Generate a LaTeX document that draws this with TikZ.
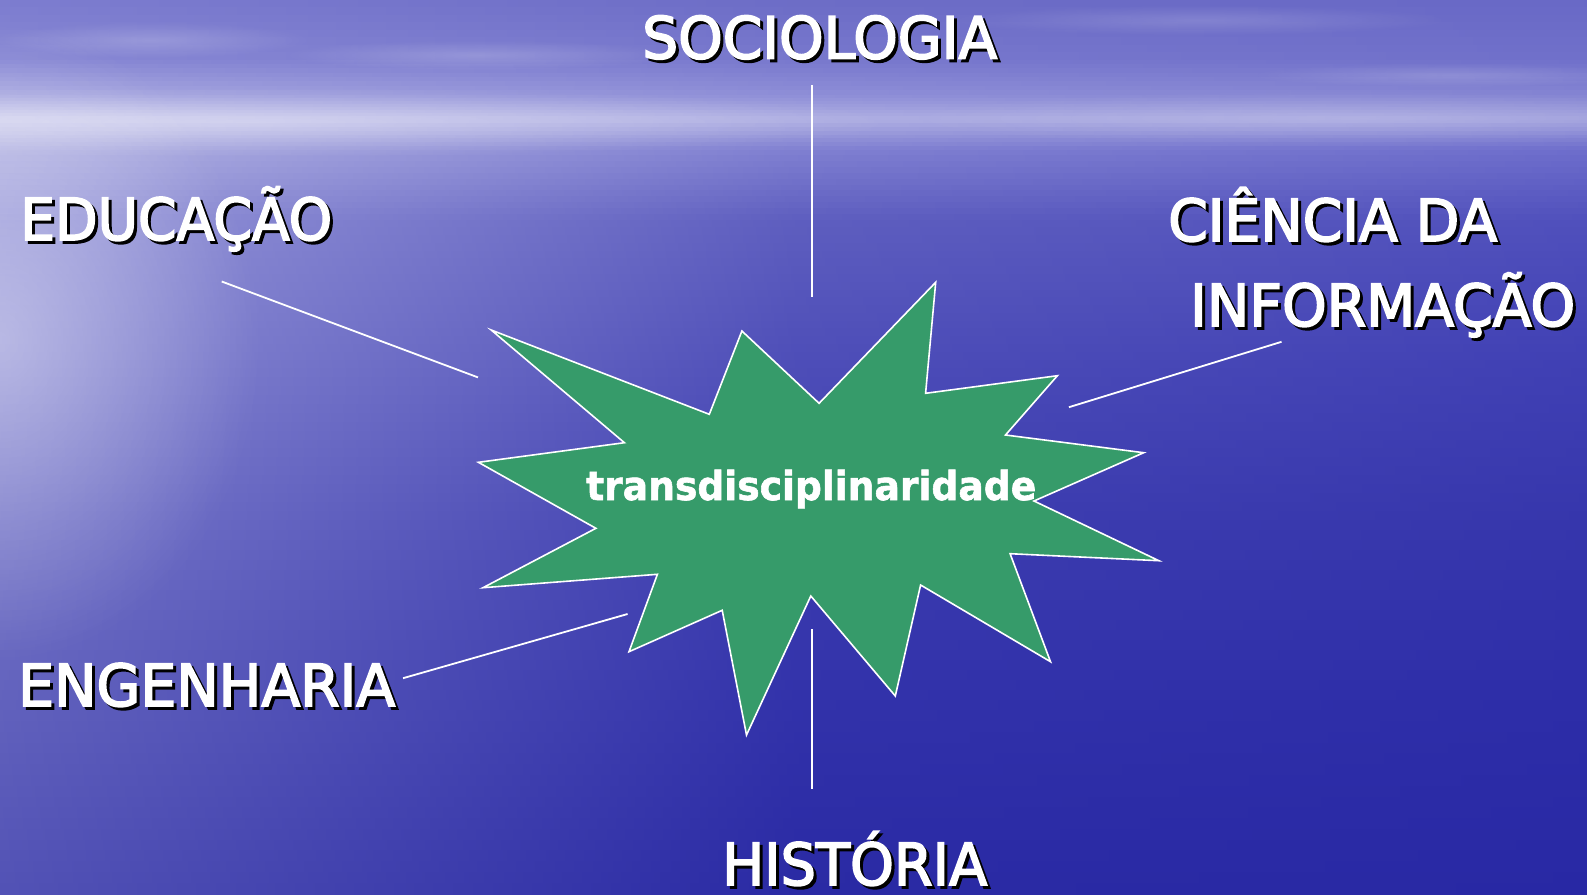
\documentclass[tikz,border=0pt]{standalone}
\usepackage{fontspec}
\setmainfont{DejaVu Sans}
\newfontfamily\lblfont[FakeBold=3]{DejaVu Sans}
\newfontfamily\corefont[FakeBold=1.5]{DejaVu Sans Bold}
\usepackage{graphicx}
\usetikzlibrary{fadings}
\tikzfading[name=glow, inner color=transparent!0, outer color=transparent!100]

\definecolor{starfill}{RGB}{54,155,106}
% background key rows: L = left edge, M = middle, R = right edge
\definecolor{raL}{RGB}{124,124,207}\definecolor{raM}{RGB}{108,108,198}\definecolor{raR}{RGB}{104,104,198}
\definecolor{rbL}{RGB}{136,136,212}\definecolor{rbM}{RGB}{120,120,205}\definecolor{rbR}{RGB}{112,112,202}
\definecolor{rcL}{RGB}{168,168,224}\definecolor{rcM}{RGB}{142,142,215}\definecolor{rcR}{RGB}{132,132,210}
\definecolor{rdL}{RGB}{205,205,237}\definecolor{rdM}{RGB}{176,176,227}\definecolor{rdR}{RGB}{160,160,221}
\definecolor{reL}{RGB}{178,178,226}\definecolor{reM}{RGB}{128,128,209}\definecolor{reR}{RGB}{110,110,204}
\definecolor{rfL}{RGB}{152,152,217}\definecolor{rfM}{RGB}{94,94,191}\definecolor{rfR}{RGB}{80,80,188}
\definecolor{rgL}{RGB}{140,140,211}\definecolor{rgM}{RGB}{78,78,184}\definecolor{rgR}{RGB}{64,64,180}
\definecolor{rhL}{RGB}{120,120,201}\definecolor{rhM}{RGB}{62,62,176}\definecolor{rhR}{RGB}{54,54,172}
\definecolor{riL}{RGB}{98,98,189}\definecolor{riM}{RGB}{50,50,170}\definecolor{riR}{RGB}{45,45,168}
\definecolor{rjL}{RGB}{82,82,181}\definecolor{rjM}{RGB}{42,42,164}\definecolor{rjR}{RGB}{40,40,164}

\newcommand{\bgseg}[5]{%
  \pgfmathsetmacro\segh{(#2-#1)/#5}%
  \foreach \i in {1,...,#5}{%
    \pgfmathtruncatemacro\pp{round(100*(\i-0.5)/#5)}%
    \pgfmathsetmacro\ya{#1+(\i-1)*\segh}%
    \pgfmathsetmacro\yb{#1+\i*\segh+0.8}%
    \shade[left color=#4L!\pp!#3L, right color=#4R!\pp!#3R, middle color=#4M!\pp!#3M]
      (-1,\ya) rectangle (1588,\yb);
  }}

\newcommand{\lab}[5]{%
  \node[lblsh] (#1sh) at (#2+3,#3+3) {\resizebox{#4pt}{\height}{#5}};
  \node[lbl] (#1) at (#2,#3) {\resizebox{#4pt}{\height}{#5}};}

\tikzset{
  lbl/.style={anchor=base west, inner sep=0pt, text=white, text depth=0pt, font=\lblfont\fontsize{58}{60}\selectfont},
  lblsh/.style={lbl, text=black},
  starline/.style={draw=white, line width=1.6pt, fill=starfill, line join=miter},
  conn/.style={draw=white, line width=1.8pt},
  centre/.style={anchor=base west, inner sep=0pt, text=white, font=\corefont\fontsize{40}{44}\selectfont}
}

\begin{document}
\begin{tikzpicture}[x=1pt,y=-1pt]
\useasboundingbox (0,0) rectangle (1587,894);
% ---- background: sky and sea
\bgseg{0}{60}{ra}{rb}{8}
\bgseg{60}{95}{rb}{rc}{8}
\bgseg{95}{120}{rc}{rd}{8}
\bgseg{120}{150}{rd}{re}{8}
\bgseg{150}{220}{re}{rf}{12}
\bgseg{220}{360}{rf}{rg}{18}
\bgseg{360}{520}{rg}{rh}{18}
\bgseg{520}{700}{rh}{ri}{18}
\bgseg{700}{894}{ri}{rj}{18}
% light reflection on the left and sky streaks
\fill[white, opacity=0.38, path fading=glow] (0,340) ellipse (260 and 320);
\fill[white, opacity=0.25, path fading=glow] (250,122) ellipse (650 and 35);
\fill[white, opacity=0.15, path fading=glow] (1350,118) ellipse (450 and 28);
\fill[white, opacity=0.18, path fading=glow] (150,40) ellipse (160 and 18);
\fill[white, opacity=0.18, path fading=glow] (480,55) ellipse (200 and 15);
\fill[white, opacity=0.15, path fading=glow] (1200,20) ellipse (250 and 15);
\fill[white, opacity=0.15, path fading=glow] (1450,75) ellipse (200 and 12);

% ---- star
\draw[starline] (491.2,330) -- (709.3,414.3) -- (741.9,331) -- (819.1,403.3)
  -- (935.7,282.3) -- (925.6,393.3) -- (1057.4,375.7) -- (1005.5,435)
  -- (1143.7,452.7) -- (1034,501) -- (1158.9,560.7) -- (1010.1,553.7)
  -- (1050.5,661.7) -- (920.6,585) -- (895.3,696) -- (810.8,596)
  -- (746.5,735) -- (722.2,610.3) -- (629,651.7) -- (657.4,574.3)
  -- (483,587.7) -- (595.9,528.3) -- (478.4,462.3) -- (624.4,442.7) -- cycle;
\node[centre] (core) at (586,500) {\resizebox{450pt}{\height}{transdisciplinaridade}};

% ---- labels
\lab{soc}{642}{58.5}{355}{SOCIOLOGIA}
\lab{edu}{20}{240}{312}{EDUCAÇÃO}
\lab{cie}{1168}{241}{329}{CIÊNCIA DA}
\lab{inf}{1190}{326}{385}{INFORMAÇÃO}
\lab{eng}{18}{706}{377}{ENGENHARIA}
\lab{his}{722}{885}{265}{HISTÓRIA}

% ---- connectors
\coordinate (socA) at (811.7,85);    \coordinate (socB) at (811.7,296.5);
\coordinate (hisA) at (811.7,629.3); \coordinate (hisB) at (811.7,789.4);
\coordinate (eduA) at (221.7,281.5); \coordinate (eduB) at (478,377.4);
\coordinate (cieA) at (1281.5,341.8);\coordinate (cieB) at (1068.9,407.2);
\coordinate (engA) at (403,678.2);   \coordinate (engB) at (627.6,614);
\draw[conn] (socA) -- (socB);
\draw[conn] (hisA) -- (hisB);
\draw[conn] (eduA) -- (eduB);
\draw[conn] (cieA) -- (cieB);
\draw[conn] (engA) -- (engB);
\end{tikzpicture}
\end{document}
